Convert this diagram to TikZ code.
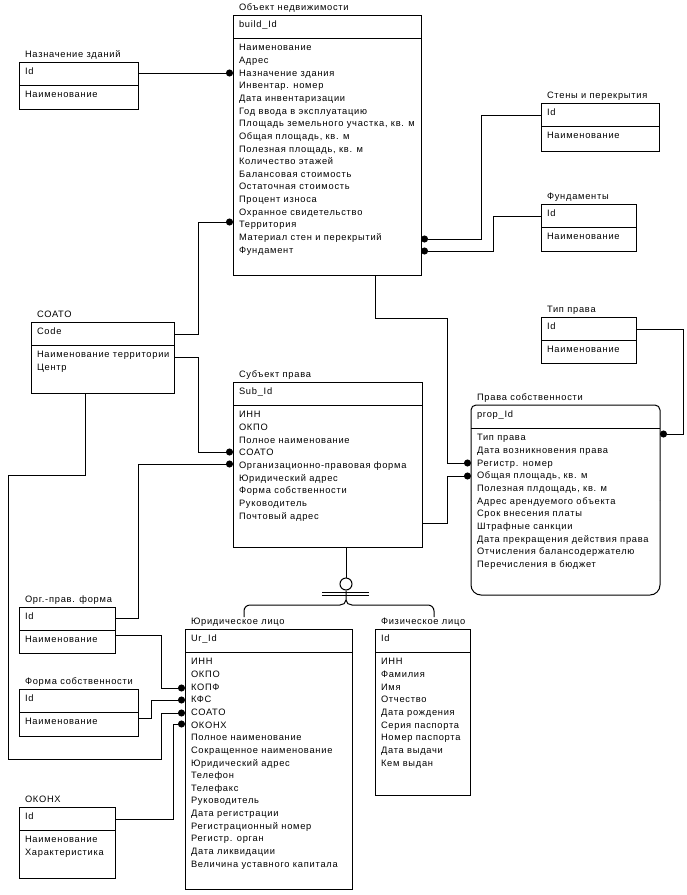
\documentclass[tikz,border=0pt]{standalone}
\usepackage{fontspec}
\setmainfont{Liberation Sans}[LetterSpace=8]
\usetikzlibrary{arrows.meta}
\tikzset{
  ebox/.style={draw, line width=1pt, inner sep=0pt, outer sep=0pt},
  nobox/.style={inner sep=0pt, outer sep=0pt},
  txt/.style={anchor=base west, inner sep=0pt, outer sep=0pt, font=\fontsize{9.3}{11}\selectfont},
  link/.style={line width=1pt},
  fkdot/.style={line width=1pt, -{Circle[length=7pt]}}
}
% #1 style, #2 name, #3 x1, #4 y1, #5 x2, #6 y2, #7 title, #8 key, #9 rows
\newcommand\entity[9][ebox]{%
  \node[#1, minimum width={#5pt-#3pt}, minimum height={#6pt-#4pt}, anchor=north west] (#2) at (#3,#4) {};
  \draw[link] (#2.west |- 0,#4+23) -- (#2.east |- 0,#4+23);
  \node[txt] (#2-t) at (#3+6,#4-5) {#7};
  \node[txt] (#2-k) at (#3+6,#4+12.5) {#8};
  \foreach \r [count=\i] in {#9} \node[txt] (#2-\i) at (#3+6,#4+35.8+\i*12.65-12.65) {\r};
}
\begin{document}
\begin{tikzpicture}[x=1pt,y=-1pt]
\fill[white] (0,0) rectangle (687,895);
\useasboundingbox (0,0) rectangle (687,895);

\entity{obj}{233}{15}{421}{275}{Объект недвижимости}{build\_Id}{Наименование,Адрес,Назначение здания,Инвентар. номер,Дата инвентаризации,Год ввода в эксплуатацию,{Площадь земельного участка, кв. м},{Общая площадь, кв. м},{Полезная площадь, кв. м},Количество этажей,Балансовая стоимость,Остаточная стоимость,Процент износа,Охранное свидетельство,Территория,Материал стен и перекрытий,Фундамент}
\entity{nazn}{19}{62}{138}{109}{Назначение зданий}{Id}{Наименование}
\entity{steny}{541}{103}{659}{151}{Стены и перекрытия}{Id}{Наименование}
\entity{fund}{541}{204}{636}{251}{Фундаменты}{Id}{Наименование}
\entity{soato}{31}{322}{174}{393}{СОАТО}{Code}{Наименование территории,Центр}
\entity{subj}{233}{382}{422}{547}{Субъект права}{Sub\_Id}{ИНН,ОКПО,Полное наименование,СОАТО,Организационно-правовая форма,Юридический адрес,Форма собственности,Руководитель,Почтовый адрес}
\entity{tip}{541}{317}{636}{363}{Тип права}{Id}{Наименование}
\entity[nobox]{prava}{471}{405}{660}{595}{Права собственности}{prop\_Id}{Тип права,Дата возникновения права,Регистр. номер,{Общая площадь, кв. м},{Полезная плдощадь, кв. м},Адрес арендуемого объекта,Срок внесения платы,Штрафные санкции,Дата прекращения действия права,Отчисления балансодержателю,Перечисления в бюджет}
\draw[link, rounded corners=5pt] (prava.west) -- (prava.north west) -- (prava.north east) -- (prava.east);
\draw[link, rounded corners=10pt] (prava.west) -- (prava.south west) -- (prava.south east) -- (prava.east);
\entity{org}{19}{607}{115}{653}{Орг.-прав. форма}{Id}{Наименование}
\entity{forma}{19}{689}{138}{736}{Форма собственности}{Id}{Наименование}
\entity{okonh}{19}{807}{115}{878}{ОКОНХ}{Id}{Наименование,Характеристика}
\entity{yur}{185}{629}{352}{889}{Юридическое лицо}{Ur\_Id}{ИНН,ОКПО,КОПФ,КФС,СОАТО,ОКОНХ,Полное наименование,Сокращенное наименование,Юридический адрес,Телефон,Телефакс,Руководитель,Дата регистрации,Регистрационный номер,Регистр. орган,Дата ликвидации,Величина уставного капитала}
\entity{fiz}{375}{629}{470}{795}{Физическое лицо}{Id}{ИНН,Фамилия,Имя,Отчество,Дата рождения,Серия паспорта,Номер паспорта,Дата выдачи,Кем выдан}

% connectors
\draw[fkdot] (nazn.east |- 0,73) -- (obj.west |- 0,73);
\draw[fkdot] (steny.west |- 0,115) -| (481,239) -- (obj.east |- 0,239);
\draw[fkdot] (fund.west |- 0,216) -| (493,251) -- (obj.east |- 0,251);
\draw[fkdot] (soato.east |- 0,334) -| (198,222) -- (obj.west |- 0,222);
\draw[fkdot] (soato.east |- 0,357) -| (198,452) -- (subj.west |- 0,452);
\draw[fkdot] (org.east |- 0,618) -| (138,464) -- (subj.west |- 0,464);
\draw[fkdot] (obj.south -| 375,0) |- (447,318) |- (prava.west |- 0,463);
\draw[fkdot] (subj.east |- 0,523) -| (447,476) -- (prava.west |- 0,476);
\draw[fkdot] (tip.east |- 0,329) -| (683,434) -- (prava.east |- 0,434);
\draw[fkdot] (org.east |- 0,635) -| (161,688) -- (yur.west |- 0,688);
\draw[fkdot] (forma.east |- 0,718) -| (151,700) -- (yur.west |- 0,700);
\draw[fkdot] (soato.south -| 85,0) |- (8,475) |- (161,759) |- (yur.west |- 0,713);
\draw[fkdot] (okonh.east |- 0,819) -| (173,724) -- (yur.west |- 0,724);

% subtype (category) symbol
\node[circle, draw, line width=1pt, minimum size=12pt, inner sep=0pt] (cat) at (346,584) {};
\draw[link] (subj.south -| cat) -- (cat.north);
\draw[link] (322,592) -- (369,592);
\draw[link] (322,595.5) -- (369,595.5);
\coordinate (jl) at (244,617);
\coordinate (jr) at (434,617);
\draw[link] (cat.south) -- (346,600) to[out=-90,in=0] (340,605) -- (250,605) to[out=180,in=90] (244,611) -- (jl);
\draw[link] (346,600) to[out=-90,in=180] (352,605) -- (428,605) to[out=0,in=90] (434,611) -- (jr);
\end{tikzpicture}
\end{document}
